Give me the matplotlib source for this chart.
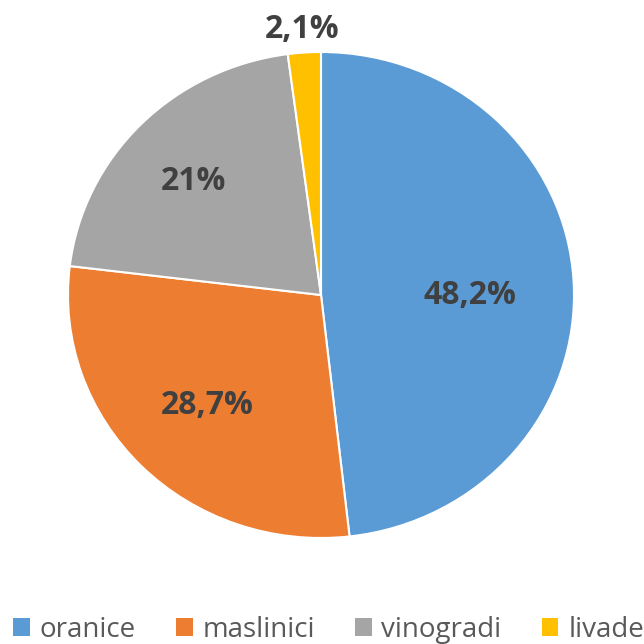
import matplotlib
matplotlib.use("Agg")
import matplotlib.pyplot as plt
from matplotlib.patches import Patch

categories = ["oranice", "maslinici", "vinogradi", "livade"]
values = [48.2, 28.7, 21.0, 2.1]
labels = ["48,2%", "28,7%", "21%", "2,1%"]
colors = ["#5B9BD5", "#ED7D31", "#A5A5A5", "#FFC000"]

W = H = 644
fig = plt.figure(figsize=(W / 100, H / 100), dpi=100)
# pie bounding box in pixels: x 68..574, y(top) 52..538
ax = fig.add_axes([68 / W, (H - 538) / H, 506 / W, 486 / H])
wedges, _ = ax.pie(values, colors=colors, startangle=90, counterclock=False,
                   wedgeprops=dict(edgecolor="white", linewidth=1.5))
ax.set_aspect("auto")
ax.set_xlim(-1, 1)
ax.set_ylim(-1, 1)
ax.axis("off")

# label positions in pixel coords (centre)
label_px = [(470, 296), (207, 405), (193, 182), (302, 30)]
for (px, py), t in zip(label_px, labels):
    fig.text(px / W, 1 - py / H, t, ha="center", va="center",
             fontsize=23, fontweight="bold", color="#404040",
             family="Open Sans")

handles = [Patch(facecolor=c, edgecolor="none") for c in colors]
fig.legend(handles, categories, loc="lower left", ncol=4,
           bbox_to_anchor=(0.003, -0.017), frameon=False,
           prop=dict(family="Open Sans", size=20), labelcolor="#595959",
           handlelength=0.6, handleheight=0.6, handletextpad=0.35,
           columnspacing=1.45, borderaxespad=0.0)

fig.savefig("out.png", dpi=100)
